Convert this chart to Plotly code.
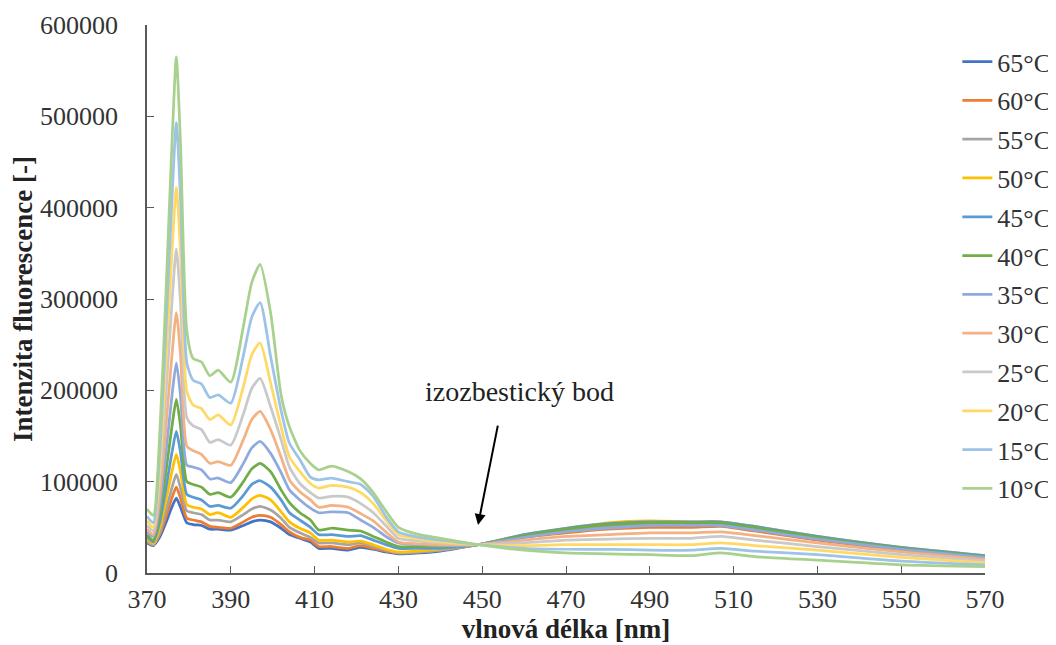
import plotly.graph_objects as go

# wavelengths [nm]
wavelengths = [370, 371.5, 373, 374.5, 376, 377, 378, 379.5, 381, 383,
               385, 387, 390, 393, 395, 397, 399.5, 402, 404, 406.5,
               409, 411, 414, 418, 421, 424, 427, 430, 435, 440,
               449, 460, 470, 480, 490, 500, 507, 515, 530, 550, 570]

# intensities in thousands
s65 = [33,30,39,55,73,82,72,55,53,52, 48,48,47,52,56,58,56,49,42,38, 34,27,27,25,28,26,23,21,22,24, 31,41,47,52,54,54,54,50,39,27, 18]
s60 = [34,31,42,61,83,94,82,60,58,56, 51,50,49,56,61,63,61,53,45,39, 36,29,29,27,30,27,24,22,23,25, 31,39,44,48,50,50,51,46,36,25, 16]
s55 = [35,31,44,68,94,108,93,68,66,64, 58,58,56,64,70,73,69,60,50,44, 39,33,33,31,33,29,25,22,23,25, 31,40,47,51,53,53,53,49,38,27, 18]
s50 = [38,32,49,79,112,130,111,75,72,70, 64,66,61,72,81,85,80,67,56,49, 44,36,36,34,35,31,26,23,24,26, 31,42,49,55,57,56,56,51,40,28, 19]
s45 = [40,34,55,92,133,155,132,86,83,80, 73,74,71,85,97,101,94,80,66,58, 50,42,42,40,41,36,31,27,27,27, 31,42,49,54,56,56,56,51,40,28, 19]
s40 = [42,36,62,110,162,190,161,100,97,94, 86,88,83,100,114,120,111,91,77,66, 58,47,49,47,46,40,34,29,29,29, 31,41,48,53,55,55,55,50,39,27, 18]
s35 = [45,40,72,131,196,230,194,118,116,113, 103,104,99,120,137,144,131,110,91,80, 71,66,67,66,58,50,40,33,31,30, 31,39,45,49,52,52,52,47,37,26, 17]
s30 = [48,42,83,159,241,285,239,139,134,130, 120,122,118,146,168,177,157,127,102,89, 80,72,74,72,65,57,45,34,32,31, 31,36,40,42,44,44,45,41,33,23, 15]
s25 = [52,46,99,194,299,355,296,170,161,157, 143,146,140,174,202,213,182,146,116,98, 88,82,84,83,76,66,52,38,35,33, 31,33,36,37,38,38,40,36,29,20, 13]
s20 = [57,50,113,229,355,422,351,199,184,180, 168,173,162,204,239,252,208,160,127,111, 98,93,96,94,88,76,58,42,37,34, 31,30,31,31,31,31,33,30,25,17, 11]
s15 = [62,55,129,265,414,493,410,230,211,207, 192,195,186,238,280,296,237,178,142,124, 105,102,104,100,97,84,62,45,39,36, 31,27,26,26,25,25,27,24,20,13, 9]
s10 = [70,63,148,304,475,565,470,265,235,231, 216,222,209,270,318,338,285,195,160,134, 120,113,117,111,103,88,68,50,42,38, 31,25,22,21,20,19,22,18,14,9, 7]

labels = ["65°C", "60°C", "55°C", "50°C", "45°C", "40°C",
          "35°C", "30°C", "25°C", "20°C", "15°C", "10°C"]
series = [s65, s60, s55, s50, s45, s40, s35, s30, s25, s20, s15, s10]
colors = ["#4472C4", "#ED7D31", "#A5A5A5", "#FFC000", "#5B9BD5", "#70AD47",
          "#8FAADC", "#F4B183", "#C9C9C9", "#FFD966", "#9DC3E6", "#A9D18E"]

x_ticks = [370, 390, 410, 430, 450, 470, 490, 510, 530, 550, 570]
y_ticks = [0, 100000, 200000, 300000, 400000, 500000, 600000]

FONT = '"Liberation Serif", "Times New Roman", serif'

fig = go.Figure()
for lab, vals, col in zip(labels, series, colors):
    fig.add_trace(go.Scatter(
        x=wavelengths, y=[v * 1000 for v in vals], name=lab, mode="lines",
        legendgroup=lab,
        line=dict(color=col, width=2.75, shape="spline", smoothing=0.6),
    ))

fig.add_annotation(x=449.0, y=52500, ax=453.8, ay=163000, axref="x", ayref="y",
                   xref="x", yref="y", text="", showarrow=True,
                   arrowhead=2, arrowsize=1.1, arrowwidth=2, arrowcolor="black")
fig.add_annotation(x=459.0, y=199000, xref="x", yref="y", text="izozbestický bod",
                   showarrow=False, font=dict(family=FONT, size=28, color="#222"))

# page body adds an 8px offset, so the figure is 8px smaller and margins shifted
fig.update_layout(
    width=1048, height=637,
    margin=dict(l=139, r=71, t=17, b=72, autoexpand=False),
    paper_bgcolor="white", plot_bgcolor="white",
    font=dict(family=FONT, size=26, color="#333"),
    showlegend=True,
    legend=dict(x=0.967, y=0.976, xanchor="left", yanchor="top",
                font=dict(family=FONT, size=26, color="#333"),
                tracegroupgap=2, itemwidth=30, bgcolor="rgba(0,0,0,0)"),
    xaxis=dict(range=[370, 570], tickvals=x_ticks, ticks="inside", ticklen=7,
               tickcolor="#595959", showline=True, linecolor="#595959", linewidth=1.5,
               showgrid=False, zeroline=False, automargin=False,
               ticklabelstandoff=2,
               tickfont=dict(family=FONT, size=26, color="#333"),
               title=dict(text="<b>vlnová délka [nm]</b>", standoff=0,
                          font=dict(family=FONT, size=27, color="#222"))),
    yaxis=dict(range=[0, 600000], tickvals=y_ticks, tickformat="d", ticks="inside",
               ticklen=7, tickcolor="#595959", showline=True, linecolor="#595959",
               linewidth=1.5, showgrid=False, zeroline=False, automargin=False,
               ticklabelstandoff=22,
               tickfont=dict(family=FONT, size=26, color="#333"),
               title=dict(text="<b>Intenzita fluorescence [-]</b>", standoff=6,
                          font=dict(family=FONT, size=27, color="#222"))),
)

fig.write_html("out.html")
